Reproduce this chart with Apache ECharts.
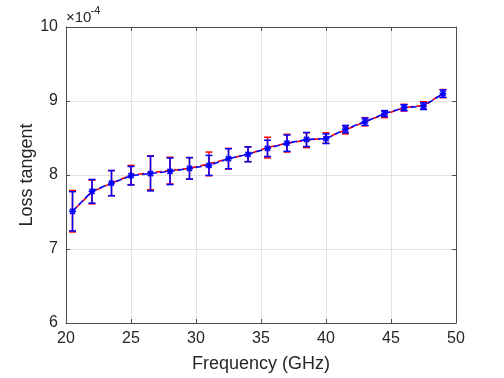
<!DOCTYPE html>
<html>
<head>
<meta charset="utf-8">
<script src="https://cdn.jsdelivr.net/npm/echarts@6/dist/echarts.min.js"></script>
<style>
html,body{margin:0;padding:0;background:#fff;}
#chart{width:504px;height:378px;}
</style>
</head>
<body>
<div id="chart"></div>
<script>
// Frequency (GHz)
const freq = [20.5,22,23.5,25,26.5,28,29.5,31,32.5,34,35.5,37,38.5,40,41.5,43,44.5,46,47.5,49];
// Loss tangent (x 1e-4) - blue series
const blueMean = [7.51,7.78,7.89,7.99,8.02,8.05,8.09,8.13,8.22,8.28,8.36,8.43,8.48,8.49,8.62,8.72,8.83,8.91,8.93,9.10];
const blueErr  = [0.265,0.16,0.17,0.125,0.235,0.18,0.145,0.135,0.135,0.10,0.11,0.11,0.095,0.065,0.05,0.05,0.04,0.04,0.045,0.05];
// red series
const redMean = [7.51,7.77,7.89,8.00,8.03,8.06,8.09,8.15,8.22,8.28,8.37,8.43,8.47,8.50,8.61,8.72,8.82,8.91,8.94,9.10];
const redErr  = [0.28,0.16,0.17,0.13,0.23,0.18,0.145,0.16,0.14,0.10,0.14,0.12,0.10,0.07,0.055,0.055,0.045,0.045,0.05,0.055];
// ticks
const xTicks = [20,25,30,35,40,45,50];
const yTicks = [6,7,8,9,10];

const font = 'Liberation Sans, Arial, sans-serif';
const textColor = '#262626';

function errData(mean, err){
  return freq.map((f,i)=>[f, mean[i]-err[i], mean[i]+err[i], mean[i]]);
}
function errRender(color, marker){
  return function(params, api){
    const x = api.value(0);
    const lo = api.coord([x, api.value(1)]);
    const hi = api.coord([x, api.value(2)]);
    const c = api.coord([x, api.value(3)]);
    const w = 3.5;
    const st = {stroke: color, lineWidth: 1.5, fill: null};
    const ch = [
      {type:'line', shape:{x1:lo[0],y1:lo[1],x2:hi[0],y2:hi[1]}, style:st},
      {type:'line', shape:{x1:hi[0]-w,y1:hi[1],x2:hi[0]+w,y2:hi[1]}, style:st},
      {type:'line', shape:{x1:lo[0]-w,y1:lo[1],x2:lo[0]+w,y2:lo[1]}, style:st}
    ];
    if (marker) {
      const r = 3.4, d = r*0.75;
      const ms = {stroke: color, lineWidth: 1.6, fill: null};
      ch.push({type:'line', shape:{x1:c[0],y1:c[1]-r,x2:c[0],y2:c[1]+r}, style:ms});
      ch.push({type:'line', shape:{x1:c[0]-r,y1:c[1],x2:c[0]+r,y2:c[1]}, style:ms});
      ch.push({type:'line', shape:{x1:c[0]-d,y1:c[1]-d,x2:c[0]+d,y2:c[1]+d}, style:ms});
      ch.push({type:'line', shape:{x1:c[0]-d,y1:c[1]+d,x2:c[0]+d,y2:c[1]-d}, style:ms});
    }
    return {type:'group', children: ch};
  };
}

const chart = echarts.init(document.getElementById('chart'), null, {renderer:'canvas'});
const axisLineStyle = {color:'#4d4d4d', width:1};
const option = {
  animation: false,
  grid: {left:66, right:48, top:27, bottom:53, containLabel:false},
  xAxis: [{
    type:'value', min:20, max:50, interval:5,
    axisLine:{show:true, lineStyle:axisLineStyle},
    axisTick:{show:true, inside:true, length:4, lineStyle:axisLineStyle},
    axisLabel:{color:textColor, fontSize:16, fontFamily:font, margin:8,
      formatter: v => xTicks.includes(v) ? String(v) : ''},
    splitLine:{show:true, lineStyle:{color:'#e3e3e3', width:1}},
    name:'Frequency (GHz)', nameLocation:'middle', nameGap:32, nameMoveOverlap:false,
    nameTextStyle:{color:textColor, fontSize:18, fontFamily:font}
  },{
    type:'value', min:20, max:50, interval:5, position:'top',
    axisLine:{show:true, lineStyle:axisLineStyle},
    axisTick:{show:true, inside:true, length:4, lineStyle:axisLineStyle},
    axisLabel:{show:false}, splitLine:{show:false}
  }],
  yAxis: [{
    type:'value', min:6, max:10, interval:1,
    axisLine:{show:true, lineStyle:axisLineStyle},
    axisTick:{show:true, inside:true, length:4, lineStyle:axisLineStyle},
    axisLabel:{color:textColor, fontSize:16, fontFamily:font, margin:8,
      formatter: v => yTicks.includes(v) ? String(v) : ''},
    splitLine:{show:true, lineStyle:{color:'#e3e3e3', width:1}},
    name:'Loss tangent', nameLocation:'middle', nameGap:30, nameRotate:90, nameMoveOverlap:false,
    nameTextStyle:{color:textColor, fontSize:18, fontFamily:font}
  },{
    type:'value', min:6, max:10, interval:1, position:'right',
    axisLine:{show:true, lineStyle:axisLineStyle},
    axisTick:{show:true, inside:true, length:4, lineStyle:axisLineStyle},
    axisLabel:{show:false}, splitLine:{show:false}
  }],
  graphic: [
    {type:'text', left:66, top:10, style:{text:'×10', fill:textColor, font:'15px ' + font}},
    {type:'text', left:90.5, top:5, style:{text:'-4', fill:textColor, font:'11px ' + font}}
  ],
  series: [
    {type:'custom', xAxisIndex:0, yAxisIndex:0, renderItem: errRender('#ff0000', false),
     data: errData(redMean, redErr), encode:{x:0, y:[1,2]}, z:2, silent:true},
    {type:'line', xAxisIndex:0, yAxisIndex:0, data: freq.map((f,i)=>[f, redMean[i]]),
     showSymbol:false, lineStyle:{color:'#ff0000', width:1.6, type:[6,3], dashOffset:4}, z:3, silent:true},
    {type:'custom', xAxisIndex:0, yAxisIndex:0, renderItem: errRender('#0000ff', true),
     data: errData(blueMean, blueErr), encode:{x:0, y:[1,2]}, z:4, silent:true},
    {type:'line', xAxisIndex:0, yAxisIndex:0, data: freq.map((f,i)=>[f, blueMean[i]]),
     showSymbol:false, lineStyle:{color:'#0000ff', width:1.6, type:[6,3]}, z:5, silent:true}
  ]
};
chart.setOption(option);
</script>
</body>
</html>
